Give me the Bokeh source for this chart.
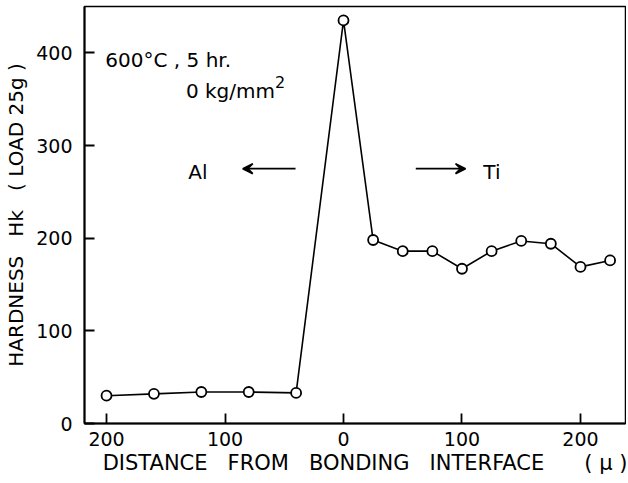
from bokeh.plotting import figure
from bokeh.models import Range1d, FixedTicker, Label, Arrow, VeeHead
from bokeh.embed import file_html
from bokeh.resources import INLINE

# Data (distance from bonding interface, micron; negative = Al side)
distance = [-200, -160, -120, -80, -40, 0, 25, 50, 75, 100, 125, 150, 175, 200, 225]
hardness = [30, 32, 34, 34, 33, 435, 198, 186, 186, 167, 186, 197, 194, 169, 176]

x_ticks = [-200, -100, 0, 100, 200]
x_tick_labels = ["200", "100", "0", "100", "200"]
y_ticks = [0, 100, 200, 300, 400]

NB = "\u00a0"

p = figure(width=626, height=481, output_backend="svg", toolbar_location=None,
           x_range=Range1d(-218.6, 238), y_range=Range1d(0, 450),
           min_border_left=84, min_border_right=1, min_border_top=6, min_border_bottom=58)

p.xgrid.visible = False
p.ygrid.visible = False
p.outline_line_color = "black"
p.outline_line_width = 1.5
p.background_fill_color = "white"
p.border_fill_color = "white"

p.line(distance, hardness, line_color="black", line_width=1.6)
p.scatter(distance, hardness, marker="circle", size=10, fill_color="white",
          line_color="black", line_width=1.8)

for ax in (p.xaxis[0], p.yaxis[0]):
    ax.axis_line_width = 2
    ax.axis_line_color = "black"
    ax.major_tick_in = 10
    ax.major_tick_out = 0
    ax.major_tick_line_width = 1.8
    ax.minor_tick_in = 0
    ax.minor_tick_out = 0
    ax.major_label_text_font = "DejaVu Sans"
    ax.major_label_text_font_size = "19px"
    ax.major_label_text_color = "black"
    ax.axis_label_text_font = "DejaVu Sans"
    ax.axis_label_text_font_style = "normal"
    ax.axis_label_text_color = "black"

p.xaxis[0].ticker = FixedTicker(ticks=x_ticks)
p.xaxis[0].major_label_overrides = dict(zip(x_ticks, x_tick_labels))
p.xaxis[0].major_label_standoff = 8
p.xaxis[0].axis_label = NB * 3 + (NB * 3).join(["DISTANCE", "FROM", "BONDING", "INTERFACE"]) + NB * 6 + "(" + NB + "\u03bc" + NB + ")"
p.xaxis[0].axis_label_text_font_size = "21px"
p.xaxis[0].axis_label_standoff = 2

p.yaxis[0].ticker = FixedTicker(ticks=y_ticks)
p.yaxis[0].major_label_standoff = 12
p.yaxis[0].axis_label = "HARDNESS" + NB * 3 + "Hk" + NB * 3 + "(" + NB + "LOAD" + NB + "25g" + NB + ")"
p.yaxis[0].axis_label_text_font_size = "20px"
p.yaxis[0].axis_label_standoff = 5

def add_label(x, y, text, size="20px", x_offset=0, align="left"):
    p.add_layout(Label(x=x, y=y, text=text, text_font="DejaVu Sans",
                       text_font_size=size, text_color="black", x_offset=x_offset,
                       text_baseline="middle", text_align=align))

add_label(-201, 392, "600\u00b0C" + NB + "," + NB + "5" + NB + "hr.")
add_label(-133, 359, "0" + NB + "kg/mm")
add_label(-133, 369, "2", size="16px", x_offset=89)
add_label(-131, 271, "Al")
add_label(118, 271, "Ti")

p.add_layout(Arrow(x_start=-40.5, y_start=275, x_end=-85, y_end=275,
                   line_color="black", line_width=1.6,
                   end=VeeHead(size=10, line_color="black", line_width=1.6)))
p.add_layout(Arrow(x_start=61, y_start=275, x_end=103, y_end=275,
                   line_color="black", line_width=1.6,
                   end=VeeHead(size=10, line_color="black", line_width=1.6)))

open("out.html", "w").write(file_html(p, INLINE))
